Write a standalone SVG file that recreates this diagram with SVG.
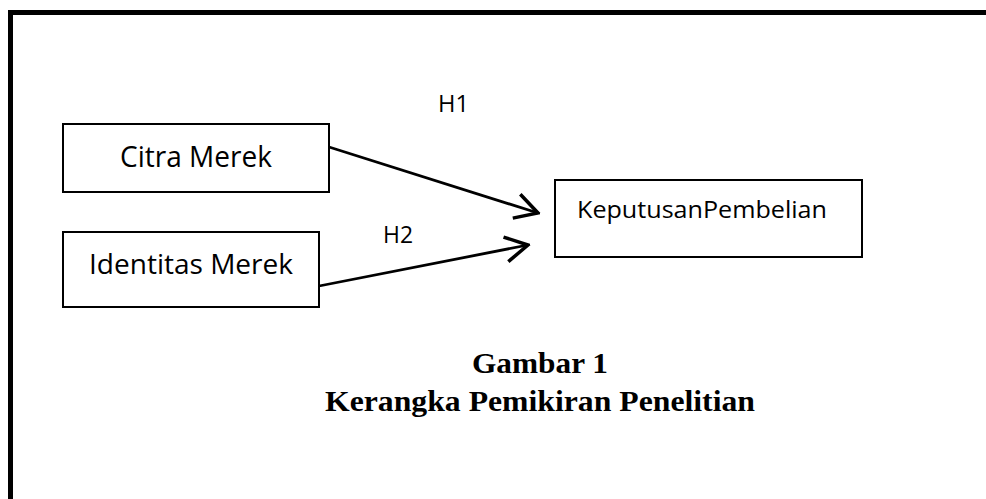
<svg xmlns="http://www.w3.org/2000/svg" width="986" height="499" viewBox="0 0 986 499">
<style>
.box{fill:#fff;stroke:#000;stroke-width:2}
.lbl{font-family:"Open Sans","Liberation Sans",sans-serif;fill:#000}
.cap{font-family:"Liberation Serif","Times New Roman",serif;font-weight:bold;font-size:29px;fill:#000;text-anchor:middle}
.conn{stroke:#000;stroke-width:2.8;fill:none;marker-end:url(#arr)}
</style>
<defs>
<marker id="arr" markerUnits="userSpaceOnUse" markerWidth="30" markerHeight="30" viewBox="-22 -12 24 24" refX="0" refY="0" orient="auto">
<path d="M-18,-10 L0,0 L-18,10" fill="none" stroke="#000" stroke-width="2.8"/>
</marker>
</defs>
<rect width="986" height="499" fill="#fff"/>
<g id="frame">
<line x1="8" y1="12.5" x2="986" y2="12.5" stroke="#000" stroke-width="5"/>
<line x1="10.5" y1="10" x2="10.5" y2="499" stroke="#000" stroke-width="5"/>
</g>
<g id="connectors">
<line class="conn" x1="329" y1="147" x2="538" y2="213"/>
<line class="conn" x1="319" y1="286" x2="528" y2="245"/>
<text class="lbl" x="438" y="112" font-size="23" textLength="31" lengthAdjust="spacingAndGlyphs">H1</text>
<text class="lbl" x="383" y="243" font-size="23" textLength="30" lengthAdjust="spacingAndGlyphs">H2</text>
</g>
<g id="citra">
<rect class="box" x="63" y="124" width="266" height="68"/>
<text class="lbl" x="120" y="167" font-size="29" textLength="152" lengthAdjust="spacingAndGlyphs">Citra Merek</text>
</g>
<g id="identitas">
<rect class="box" x="63" y="232" width="256" height="75"/>
<text class="lbl" x="89" y="274" font-size="28" textLength="204" lengthAdjust="spacingAndGlyphs">Identitas Merek</text>
</g>
<g id="keputusan">
<rect class="box" x="555" y="180" width="307" height="77"/>
<text class="lbl" x="577" y="218" font-size="24" textLength="250" lengthAdjust="spacingAndGlyphs">KeputusanPembelian</text>
</g>
<g id="caption">
<text class="cap" x="540" y="373" textLength="136" lengthAdjust="spacingAndGlyphs">Gambar 1</text>
<text class="cap" x="540" y="411" textLength="430" lengthAdjust="spacingAndGlyphs">Kerangka Pemikiran Penelitian</text>
</g>
</svg>
